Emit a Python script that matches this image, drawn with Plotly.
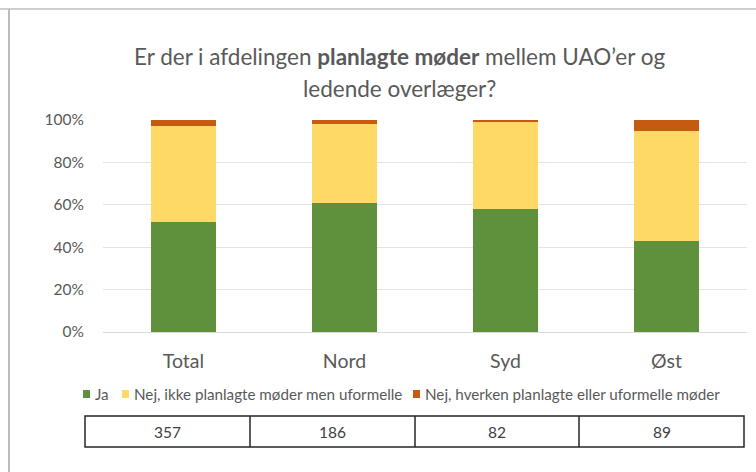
import plotly.graph_objects as go

categories = ["Total", "Nord", "Syd", "Øst"]
series_names = ["Ja", "Nej, ikke planlagte møder men uformelle", "Nej, hverken planlagte eller uformelle møder"]
ja = [52, 61, 58, 43]
nej_uformelle = [45, 37, 41, 52]
nej_hverken = [3, 2, 1, 5]
n_values = [357, 186, 82, 89]
colors = ["#5F913D", "#FFD966", "#C55A11"]

W, H = 756, 472
L, R, T, B = 103, 747, 120, 332
FONT = "Lato"
GREY = "#595959"

def px(x):
    return (x - L) / (R - L)

def py(y):
    return (B - y) / (B - T)

fig = go.Figure()
for name, vals, col in zip(series_names, [ja, nej_uformelle, nej_hverken], colors):
    fig.add_trace(go.Bar(x=categories, y=[v / 100 for v in vals], name=name,
                         marker=dict(color=col, line=dict(width=0)), showlegend=False))

shapes = []
annotations = []

# title
annotations.append(dict(x=px(399), y=py(56), xref="paper", yref="paper", showarrow=False,
                        text="Er der i afdelingen <b>planlagte møder</b> mellem UAO’er og",
                        font=dict(family=FONT, size=22.5, color=GREY), xanchor="center", yanchor="middle"))
annotations.append(dict(x=px(399), y=py(88), xref="paper", yref="paper", showarrow=False,
                        text="ledende overlæger?",
                        font=dict(family=FONT, size=22.5, color=GREY), xanchor="center", yanchor="middle"))

# frame lines
shapes.append(dict(type="line", xref="paper", yref="paper", x0=px(9), x1=px(9), y0=py(9), y1=py(H + 5),
                   line=dict(color="#A6A6A6", width=1.5)))
shapes.append(dict(type="line", xref="paper", yref="paper", x0=px(0), x1=px(W + 5), y0=py(9), y1=py(9),
                   line=dict(color="#BFBFBF", width=1.5)))

# manual legend
leg_y = 394
leg_items_x = [83, 122, 413]
for name, col, lx in zip(series_names, colors, leg_items_x):
    shapes.append(dict(type="rect", xref="paper", yref="paper", x0=px(lx), x1=px(lx + 7),
                       y0=py(leg_y + 4), y1=py(leg_y - 4), fillcolor=col, line=dict(width=0)))
    annotations.append(dict(x=px(lx + 10), y=py(leg_y), xref="paper", yref="paper", showarrow=False,
                            text=name, font=dict(family=FONT, size=15.2, color=GREY),
                            xanchor="left", yanchor="middle"))

# table of n
col_edges = [85, 250, 415, 579, 744]
t_top, t_bot = 416, 447
shapes.append(dict(type="rect", xref="paper", yref="paper", x0=px(col_edges[0]), x1=px(col_edges[-1]),
                   y0=py(t_bot), y1=py(t_top), line=dict(color="#262626", width=1.5)))
for e in col_edges[1:-1]:
    shapes.append(dict(type="line", xref="paper", yref="paper", x0=px(e), x1=px(e),
                       y0=py(t_bot), y1=py(t_top), line=dict(color="#262626", width=1.5)))
for i, n in enumerate(n_values):
    cx = (col_edges[i] + col_edges[i + 1]) / 2
    annotations.append(dict(x=px(cx), y=py((t_top + t_bot) / 2), xref="paper", yref="paper",
                            showarrow=False, text=str(n), font=dict(family=FONT, size=15.5, color="#404040"),
                            xanchor="center", yanchor="middle"))

fig.update_layout(
    width=W, height=H,
    margin=dict(l=L, r=W - R, t=T, b=H - B, pad=0),
    paper_bgcolor="white", plot_bgcolor="white",
    barmode="stack", bargap=0.6,
    shapes=shapes, annotations=annotations,
    xaxis=dict(showgrid=False, showline=False, ticks="", zeroline=False,
               tickfont=dict(family=FONT, size=19.5, color=GREY), ticklabelstandoff=15),
    yaxis=dict(range=[0, 1], dtick=0.2, tickformat=".0%", showgrid=True, gridcolor="#E4E4E4",
               gridwidth=1, zeroline=True, zerolinecolor="#D9D9D9", zerolinewidth=1,
               showline=False, ticks="", tickfont=dict(family=FONT, size=15.5, color=GREY),
               ticklabelstandoff=18),
)

fig.write_html("out.html", config={"displayModeBar": False},
               post_script="document.body.style.margin='0';document.body.style.overflow='hidden';")
